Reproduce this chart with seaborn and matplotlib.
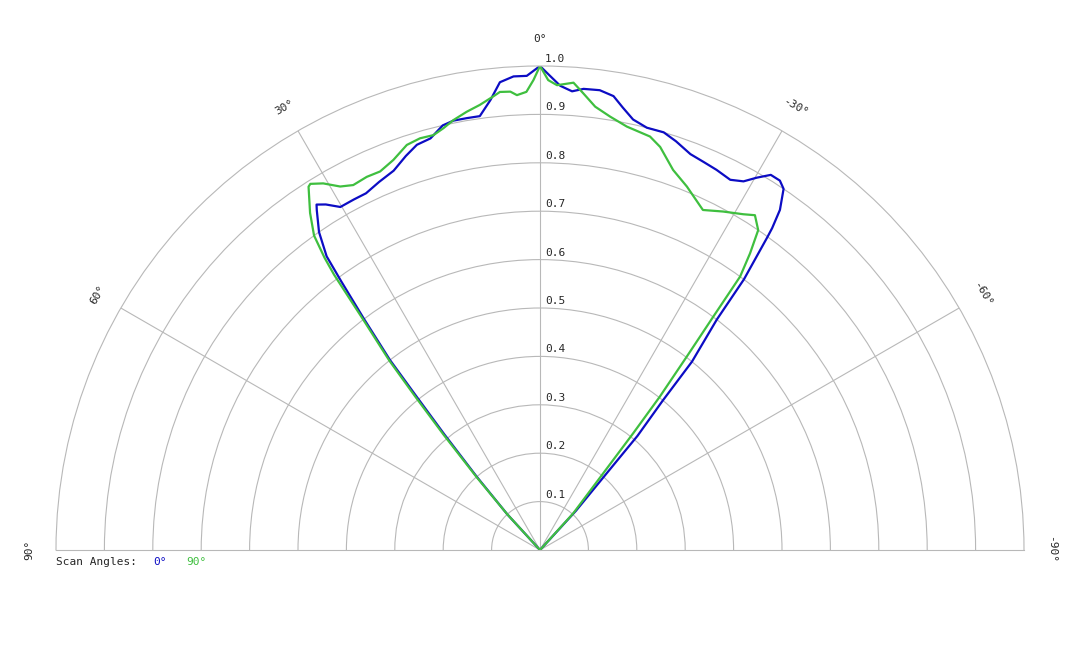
import numpy as np
import pandas as pd
import matplotlib
matplotlib.use("Agg")
import matplotlib.pyplot as plt
import seaborn as sns

# ---- data: relative intensity vs angle (deg), positive = left side ----
blue_angles = [45, 42.5, 40.8, 39.6, 38.8, 38.3, 37.3, 36.5, 36.0, 34.8, 33.3, 32.9,
               31.8, 30.2, 28.0, 26.0, 23.6, 21.1, 18.8, 16.9, 14.9, 12.9, 11.4, 9.6,
               7.9, 6.3, 4.9, 3.2, 1.6, 0, -1.2, -2.5, -4.0, -5.4, -7.4, -9.2, -10.6,
               -12.2, -14.2, -16.5, -18.4, -20.8, -22.9, -24.9, -27.2, -28.9, -30.2,
               -31.6, -33.0, -34.0, -35.2, -35.8, -36.0, -37.0, -37.5, -38.9, -39.4,
               -40.5, -41.0, -42.5, -45]
blue_values = [0, 0.10, 0.20, 0.31, 0.41, 0.50, 0.60, 0.69, 0.75, 0.80, 0.84, 0.85,
               0.84, 0.82, 0.82, 0.82, 0.83, 0.84, 0.86, 0.875, 0.88, 0.90, 0.905, 0.905,
               0.905, 0.935, 0.97, 0.98, 0.98, 1.0, 0.98, 0.96, 0.95, 0.957, 0.958, 0.95,
               0.93, 0.91, 0.90, 0.90, 0.89, 0.875, 0.87, 0.866, 0.86, 0.87, 0.89,
               0.91, 0.91, 0.90, 0.86, 0.82, 0.80, 0.70, 0.60, 0.50, 0.40,
               0.31, 0.21, 0.11, 0]

green_angles = [44, 42.5, 41.0, 39.9, 39.1, 38.5, 37.5, 36.8, 36.4, 35.7, 34.3, 32.5,
                32.1, 30.6, 28.8, 27.1, 24.9, 22.9, 20.6, 18.2, 16.25, 14.4, 12.9, 11.4,
                9.5, 7.7, 5.9, 5.0, 3.7, 2.9, 1.7, 0.8, 0, -1.0, -2.1, -4.1, -5.4, -7.1,
                -9.2, -11.6, -14.9, -16.6, -19.3, -22.0, -25.6, -28.4, -31.2, -32.7,
                -34.3, -35.3, -36.2, -36.6, -37.2, -38.0, -38.6, -39.5, -42.2, -44]
green_values = [0, 0.10, 0.20, 0.31, 0.41, 0.50, 0.60, 0.71, 0.75, 0.80, 0.843, 0.89,
                0.893, 0.88, 0.857, 0.847, 0.85, 0.849, 0.861, 0.881, 0.886, 0.885, 0.894,
                0.906, 0.918, 0.928, 0.942, 0.95, 0.949, 0.941, 0.947, 0.971, 1.0, 0.971,
                0.961, 0.968, 0.948, 0.923, 0.907, 0.893, 0.884, 0.869, 0.832, 0.810,
                0.779, 0.795, 0.811, 0.822, 0.800, 0.751, 0.700, 0.600, 0.501, 0.402,
                0.309, 0.205, 0.102, 0]

scan_names = ["0°", "90°"]
scan_colors = ["#0c0cc4", "#3fbf3f"]
angle_ticks = [90, 60, 30, 0, -30, -60, -90]
ring_values = [0.1, 0.2, 0.3, 0.4, 0.5, 0.6, 0.7, 0.8, 0.9, 1.0]

df = pd.concat([
    pd.DataFrame({"theta": np.deg2rad(blue_angles), "r": blue_values, "scan": scan_names[0]}),
    pd.DataFrame({"theta": np.deg2rad(green_angles), "r": green_values, "scan": scan_names[1]}),
])

sns.set_style("white")
plt.rcParams["font.family"] = ["DejaVu Sans Mono"]

fig = plt.figure(figsize=(10.8, 6.48), dpi=100)
# half-disc is drawn at half the axes box size, centred in it -> box is doubled
ax = fig.add_axes([-428 / 1080, -144 / 648, 1936 / 1080, 968 / 648], projection="polar")
ax.set_theta_zero_location("N")
ax.set_theta_direction(1)
ax.set_thetamin(-90)
ax.set_thetamax(90)
ax.set_ylim(0, 1)

grid_col = "#b8b8b8"
ax.set_xticks(np.deg2rad([-60, -30, 0, 30, 60]))
ax.set_xticklabels([])
ax.set_yticks(ring_values[:-1])
ax.set_yticklabels([])
ax.tick_params(length=0)
ax.grid(True, color=grid_col, linewidth=0.8)
for sp in ax.spines.values():
    sp.set_color(grid_col)
    sp.set_linewidth(0.8)

sns.lineplot(data=df, x="theta", y="r", hue="scan", palette=dict(zip(scan_names, scan_colors)),
             estimator=None, legend=False, linewidth=1.6, ax=ax,
             solid_joinstyle="round", solid_capstyle="round")
ax.set_xlabel("")
ax.set_ylabel("")

# radial labels along 0° spoke
for v in ring_values:
    ax.annotate(f"{v:.1f}", xy=(0, v), xytext=(3.5, 1.5), textcoords="offset points",
                ha="left", va="bottom", fontsize=8)

# angle labels, rotated along the arc
for d in angle_ticks:
    ax.text(np.deg2rad(d), 1.056, f"{d}°", rotation=d, rotation_mode="anchor",
            ha="center", va="center", fontsize=8)

# legend line
ly = 1 - 562 / 648
fig.text(56 / 1080, ly, "Scan Angles:", fontsize=8, va="center", ha="left")
fig.text(153 / 1080, ly, scan_names[0], fontsize=8, va="center", ha="left", color=scan_colors[0])
fig.text(186 / 1080, ly, scan_names[1], fontsize=8, va="center", ha="left", color=scan_colors[1])

fig.savefig("out.png", dpi=100)
